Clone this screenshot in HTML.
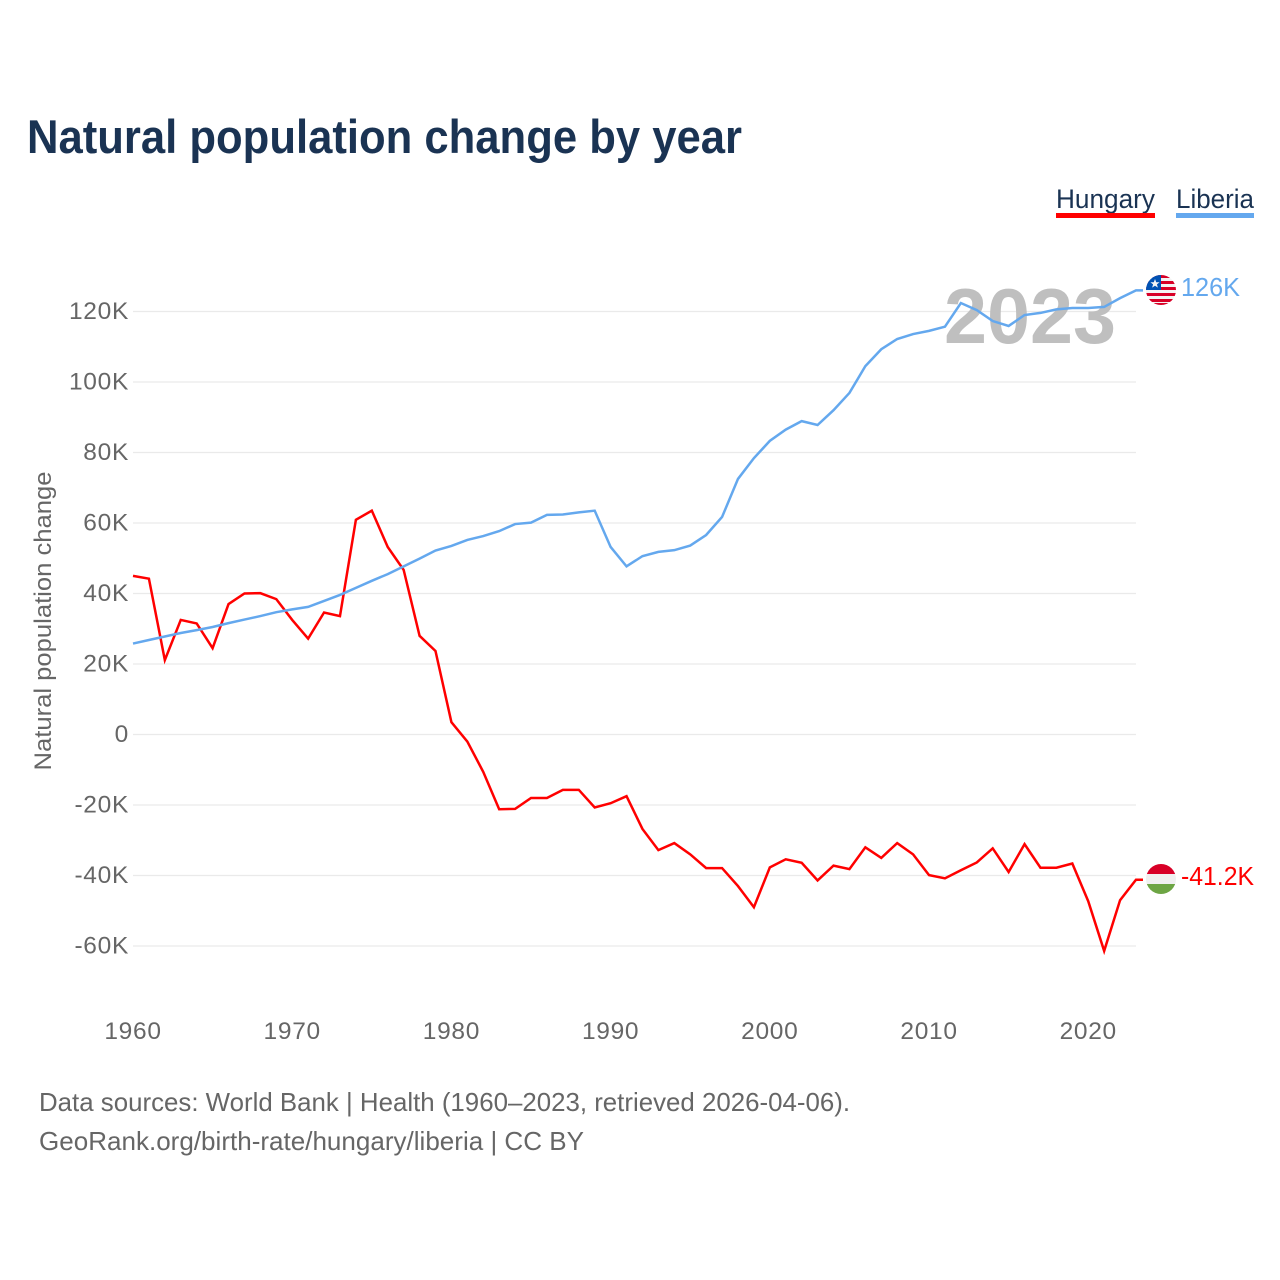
<!DOCTYPE html>
<html lang="en">
<head>
<meta charset="utf-8">
<title>Natural population change by year</title>
<style>
html,body{margin:0;padding:0;background:#fff;}
svg{display:block;font-family:"Liberation Sans",sans-serif;}
</style>
</head>
<body>
<svg id="chart" xmlns="http://www.w3.org/2000/svg" width="1280" height="1280" viewBox="0 0 1280 1280">
  <defs>
    <clipPath id="clip-liberia"><circle cx="1161" cy="290" r="15"/></clipPath>
    <clipPath id="clip-hungary"><circle cx="1161" cy="879" r="15"/></clipPath>
  </defs>
  <rect width="1280" height="1280" fill="#fff"/>
  <text x="27" y="153" font-size="47" font-weight="700" fill="#1a3353" textLength="715" lengthAdjust="spacingAndGlyphs">Natural population change by year</text>

  <g>
    <text x="1056" y="208" font-size="27" fill="#1a3353" textLength="99" lengthAdjust="spacingAndGlyphs">Hungary</text>
    <rect x="1056" y="213" width="99" height="5" fill="#ff0000"/>
  </g>
  <g>
    <text x="1176" y="208" font-size="27" fill="#1a3353" textLength="78" lengthAdjust="spacingAndGlyphs">Liberia</text>
    <rect x="1176" y="213" width="78" height="5" fill="#64a8ee"/>
  </g>

  <g id="grid"></g>
  <text x="1030" y="343" font-size="78" font-weight="700" fill="#bfbfbf" text-anchor="middle" textLength="172" lengthAdjust="spacingAndGlyphs">2023</text>
  <g id="y-ticks"></g>
  <g id="x-ticks"></g>
  <text transform="translate(51 621) rotate(-90)" font-size="24" fill="#666" text-anchor="middle" textLength="299" lengthAdjust="spacingAndGlyphs">Natural population change</text>

  <g id="series"></g>

  <g clip-path="url(#clip-liberia)">
    <rect x="1146" y="275" width="30" height="30" fill="#f4f4f4"/>
    <rect x="1146" y="275" width="30" height="3" fill="#d80027"/>
    <rect x="1146" y="281" width="30" height="3" fill="#d80027"/>
    <rect x="1146" y="287" width="30" height="3" fill="#d80027"/>
    <rect x="1146" y="293" width="30" height="3" fill="#d80027"/>
    <rect x="1146" y="299" width="30" height="3" fill="#d80027"/>
    <rect x="1146" y="303" width="30" height="2" fill="#d80027"/>
    <rect x="1146" y="275" width="15" height="15" fill="#0052b4"/>
    <polygon points="1155,279 1156.2,282.3 1159.6,282.3 1156.9,284.4 1157.9,287.6 1155,285.7 1152.1,287.6 1153.1,284.4 1150.4,282.3 1153.8,282.3" fill="#f4f4f4"/>
  </g>
  <g clip-path="url(#clip-hungary)">
    <rect x="1146" y="864" width="30" height="10" fill="#d80027"/>
    <rect x="1146" y="874" width="30" height="10" fill="#f0f0f0"/>
    <rect x="1146" y="884" width="30" height="10" fill="#6da544"/>
  </g>

  <text x="1181" y="296" font-size="26" fill="#64a8ee" textLength="59" lengthAdjust="spacingAndGlyphs">126K</text>
  <text x="1181" y="885" font-size="26" fill="#ff0000" textLength="73" lengthAdjust="spacingAndGlyphs">-41.2K</text>

  <text x="39" y="1111" font-size="26" fill="#666" textLength="811" lengthAdjust="spacingAndGlyphs">Data sources: World Bank | Health (1960–2023, retrieved 2026-04-06).</text>
  <text x="39" y="1150" font-size="26" fill="#666" textLength="545" lengthAdjust="spacingAndGlyphs">GeoRank.org/birth-rate/hungary/liberia | CC BY</text>
</svg>
<script>
const startYear = 1960;
const hungaryValues = [45,44.2,21.1,32.5,31.5,24.5,37,40,40.1,38.4,32.5,27.2,34.6,33.6,60.9,63.5,53.2,46.7,28,23.7,3.5,-2,-10.6,-21.2,-21.1,-18,-18,-15.7,-15.7,-20.7,-19.5,-17.5,-26.8,-32.8,-30.8,-34,-37.9,-37.9,-43,-49,-37.7,-35.4,-36.4,-41.4,-37.2,-38.2,-32,-35,-30.8,-34,-39.9,-40.8,-38.5,-36.3,-32.3,-39,-31.1,-37.8,-37.8,-36.6,-47.3,-61.4,-47,-41.2];
const liberiaValues = [25.8,26.8,27.8,28.8,29.6,30.5,31.6,32.6,33.6,34.7,35.5,36.2,37.9,39.6,41.6,43.6,45.5,47.7,49.9,52.2,53.5,55.2,56.3,57.7,59.7,60.1,62.3,62.4,63,63.5,53.2,47.7,50.6,51.8,52.3,53.6,56.6,61.7,72.5,78.4,83.3,86.5,88.9,87.8,92,96.9,104.5,109.3,112.2,113.6,114.5,115.7,122.4,120.4,117.3,115.9,119,119.6,120.6,121,121,121.3,123.8,126];
const yTickValues = [120,100,80,60,40,20,0,-20,-40,-60];
const yTickLabels = ["120K","100K","80K","60K","40K","20K","0","-20K","-40K","-60K"];
const xTickYears = [1960,1970,1980,1990,2000,2010,2020];

const NS = "http://www.w3.org/2000/svg";
const xOf = function (year) { return 133 + (year - 1960) * (1136 - 133) / 63; };
const yOf = function (v) { return 734.5 - v * 3.525; };

const grid = document.getElementById("grid");
const yTicks = document.getElementById("y-ticks");
const xTicks = document.getElementById("x-ticks");
const series = document.getElementById("series");

yTickValues.forEach(function (v, i) {
  const line = document.createElementNS(NS, "line");
  
  
  line.setAttribute("x1", 133);
  line.setAttribute("x2", 1136);
  line.setAttribute("y1", yOf(v));
  line.setAttribute("y2", yOf(v));
  line.setAttribute("stroke", "#eaeaea");
  line.setAttribute("stroke-width", 1.3);
  grid.appendChild(line);

  const t = document.createElementNS(NS, "text");
  
  
  t.setAttribute("x", 129);
  t.setAttribute("y", yOf(v) + 7.5);
  t.setAttribute("text-anchor", "end");
  t.setAttribute("font-size", 24.5);
  t.setAttribute("letter-spacing", 0.7);
  t.setAttribute("fill", "#666");
  t.textContent = yTickLabels[i];
  yTicks.appendChild(t);
});

xTickYears.forEach(function (year) {
  const t = document.createElementNS(NS, "text");
  
  
  t.setAttribute("x", xOf(year));
  t.setAttribute("y", 1039);
  t.setAttribute("text-anchor", "middle");
  t.setAttribute("font-size", 24.5);
  t.setAttribute("letter-spacing", 0.7);
  t.setAttribute("fill", "#666");
  t.textContent = String(year);
  xTicks.appendChild(t);
});

function pathFrom(values) {
  let d = values.map(function (v, i) {
    return (i ? "L" : "M") + xOf(startYear + i).toFixed(2) + " " + yOf(v).toFixed(2);
  }).join(" ");
  d += " H1143";
  return d;
}

const hungaryLine = document.createElementNS(NS, "path");


hungaryLine.setAttribute("d", pathFrom(hungaryValues));
hungaryLine.setAttribute("fill", "none");
hungaryLine.setAttribute("stroke", "#ff0000");
hungaryLine.setAttribute("stroke-width", 2.5);
series.appendChild(hungaryLine);

const liberiaLine = document.createElementNS(NS, "path");


liberiaLine.setAttribute("d", pathFrom(liberiaValues));
liberiaLine.setAttribute("fill", "none");
liberiaLine.setAttribute("stroke", "#64a8ee");
liberiaLine.setAttribute("stroke-width", 2.5);
series.appendChild(liberiaLine);
</script>
</body>
</html>
